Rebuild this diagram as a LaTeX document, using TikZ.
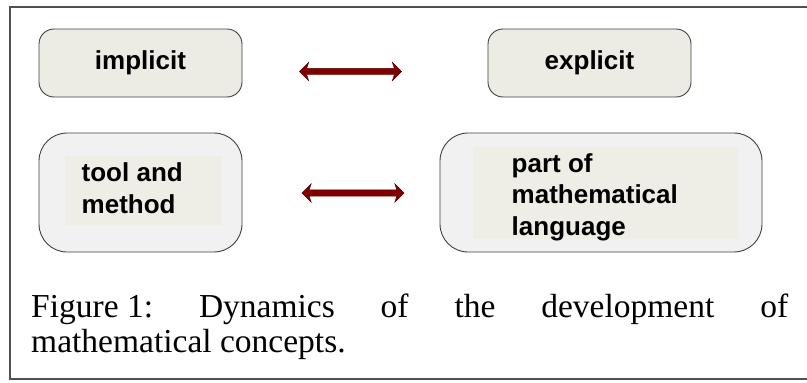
\documentclass[tikz,border=0pt]{standalone}
\usepackage{fontspec}
\setmainfont{Liberation Serif}
\newfontfamily\arialfont{Liberation Sans}
\usetikzlibrary{shapes.arrows}
\definecolor{boxfill}{HTML}{EDECE4}
\definecolor{outerfill}{HTML}{F1F1F1}
\definecolor{innerfill}{HTML}{EEEDE6}
\definecolor{arrowred}{HTML}{800000}
\definecolor{edgegray}{HTML}{404040}
\definecolor{framegray}{HTML}{505050}
\begin{document}
\begin{tikzpicture}[x=1pt,y=-1pt,
  boxlabel/.style={font=\arialfont\bfseries\fontsize{26}{31.5}\selectfont, inner sep=0pt},
  topbox/.style={draw=edgegray, line width=0.9pt, fill=boxfill, rounded corners=15pt,
    minimum width=203pt, minimum height=68pt, boxlabel},
  bigbox/.style={draw=edgegray, line width=0.9pt, fill=outerfill, rounded corners=28pt,
    minimum height=119pt},
  innerbox/.style={fill=innerfill, inner sep=0pt},
  twoway/.style={double arrow, fill=arrowred, draw=arrowred!70!black, line width=0.4pt,
    inner xsep=0pt, inner ysep=3pt, double arrow head extend=6pt,
    double arrow head indent=2pt, minimum height=102pt},
  textblock/.style={boxlabel, align=left, anchor=base west}
]
\useasboundingbox (0,0) rectangle (807,383);
% frame
\draw[framegray, line width=1.6pt] (812,7) -- (10,7) -- (10,379) -- (812,379);

% top row
\node[topbox] (impl) at (140.5,63) {implicit};
\node[topbox] (expl) at (589.5,63) {explicit};
\node[twoway] (arrA) at (350.5,71.5) {};

% bottom row
\node[bigbox, minimum width=203pt] (toolbox) at (140.5,192.5) {};
\node[innerbox, minimum width=157pt, minimum height=69pt] (toolin) at (143.5,190.5) {};
\node[textblock] (tooltxt) at (81.5,213) {tool and\\method};

\node[bigbox, minimum width=322pt] (partbox) at (601,192.5) {};
\node[innerbox, minimum width=265pt, minimum height=92pt] (partin) at (605.5,193) {};
\node[textblock] (parttxt) at (511.5,235) {part of\\mathematical\\language};

\node[twoway] (arrB) at (353,193) {};

% caption
\node[anchor=base west, inner sep=0pt, align=left,
      font=\fontsize{33.5}{34.5}\selectfont] (cap) at (31,352)
  {\makebox[757pt][s]{\mbox{Figure 1:} Dynamics of the development of}\\mathematical concepts.};
\end{tikzpicture}
\end{document}
